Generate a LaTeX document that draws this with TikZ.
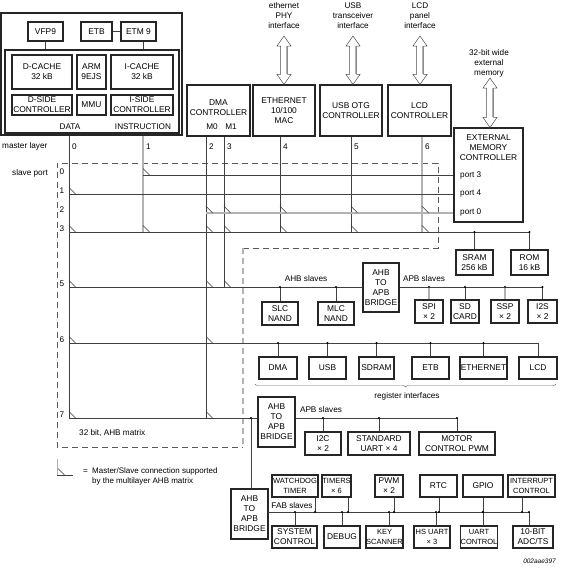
\documentclass[tikz,border=0pt]{standalone}
\usepackage{fontspec}
\setmainfont{Liberation Sans}
\usetikzlibrary{calc,decorations.pathreplacing}

\tikzset{
  blk/.style={draw=black!85, line width=1.1pt, align=center, inner sep=0pt,
    font=\fontsize{8.4}{10}\selectfont},
  sz/.style 2 args={minimum width=#1pt, minimum height=#2pt},
  tight/.style={font=\fontsize{7.5}{9.5}\selectfont},
  lbl/.style={inner sep=0pt, align=center, font=\fontsize{8.2}{10}\selectfont},
  bus/.style={draw=black!75, line width=0.6pt},
  gbus/.style={draw=black!30, line width=2.2pt},
  tick/.style={draw=black!80, line width=0.5pt},
  dashbox/.style={draw=black!65, line width=0.6pt, dash pattern=on 6pt off 4pt},
  gdash/.style={draw=black!30, line width=1.5pt, dash pattern=on 6pt off 4pt},
}

% wide hollow arrow, #1 = top end, #2 = bottom end
\newcommand\hollowarrow[2]{%
  \draw[black!70, line width=0.5pt] let \p1=(#1), \p2=(#2) in
    (\x1,\y1) -- (\x1+7pt,\y1-10pt) -- (\x1+3.5pt,\y1-10pt) -- (\x1+3.5pt,\y2+10pt)
    -- (\x1+7pt,\y2+10pt) -- (\x1,\y2) -- (\x1-7pt,\y2+10pt) -- (\x1-3.5pt,\y2+10pt)
    -- (\x1-3.5pt,\y1-10pt) -- (\x1-7pt,\y1-10pt) -- cycle;
  \draw[black!30, line width=1.6pt] let \p1=(#1), \p2=(#2) in
    (\x1+2.4pt,\y1-10pt) -- (\x1+2.4pt,\y2+10pt);}

\begin{document}
\begin{tikzpicture}[x=1pt, y=-1pt]
\useasboundingbox (0,0) rectangle (560,568);

% matrix outline
\draw[dashbox] (243,248) -- (438,248) -- (438,163) -- (57,163) -- (57,447) -- (243,447);
\draw[gdash] (243,248) -- (243,447);

% ARM926 block
\node[blk, sz={181}{122}, line width=1.4pt] (cpu) at (91.5,74) {};
\node[blk, sz={35}{19}] (vfp) at (45.5,31.5) {VFP9};
\node[blk, sz={31}{19}] (etb) at (96.5,31.5) {ETB};
\node[blk, sz={35}{19}] (etm) at (138.5,31.5) {ETM 9};
\node[blk, sz={174}{83}] (core) at (92,91.5) {};
\node[blk, sz={60}{34}] (dcache) at (42,72) {D-CACHE\\32 kB};
\node[blk, sz={29}{34}] (arm) at (91.5,72) {ARM\\9EJS};
\node[blk, sz={62}{34}] (icache) at (142,72) {I-CACHE\\32 kB};
\node[blk, sz={60}{20}] (dside) at (42,105) {D-SIDE\\CONTROLLER};
\node[blk, sz={29}{20}] (mmu) at (91.5,105) {MMU};
\node[blk, sz={62}{20}] (iside) at (142,105) {I-SIDE\\CONTROLLER};
\node[lbl] (data) at (70,127) {DATA};
\node[lbl] (instr) at (143,127) {INSTRUCTION};

% masters
\node[blk, sz={63}{51}] (dma) at (218.5,110.5) {};
\node[lbl, font=\fontsize{8.4}{10}\selectfont] (dmaT) at (218.5,107.5) {DMA\\CONTROLLER};
\node[lbl] (mz) at (212,127) {M0};
\node[lbl] (mo) at (231,127) {M1};
\node[blk, sz={62}{51}] (eth) at (284,110.5) {ETHERNET\\10/100\\MAC};
\node[blk, sz={62}{51}] (usb) at (351,110.5) {USB OTG\\CONTROLLER};
\node[blk, sz={63}{51}] (lcd) at (419.5,110.5) {LCD\\CONTROLLER};

\coordinate (ethA) at (284,36);
\coordinate (usbA) at (353,36);
\coordinate (lcdA) at (420,36);
\coordinate (emcA) at (490,78);
\node[lbl] (ethL) at (284,16) {ethernet\\PHY\\interface};
\node[lbl] (usbL) at (353,16) {USB\\transceiver\\interface};
\node[lbl] (lcdL) at (420,16) {LCD\\panel\\interface};
\node[lbl] (emcL) at (489,63) {32-bit wide\\external\\memory};

% external memory
\node[blk, sz={69}{94}] (emc) at (488.5,175) {};
\node[lbl, font=\fontsize{8.4}{10}\selectfont] (emcT) at (488.5,148) {EXTERNAL\\MEMORY\\CONTROLLER};
\node[lbl, anchor=west] (pt3) at (460,175) {port 3};
\node[lbl, anchor=west] (pt4) at (460,194) {port 4};
\node[lbl, anchor=west] (pt0) at (460,212.7) {port 0};
\node[blk, sz={37}{25}] (sram) at (474.5,262.5) {SRAM\\256 kB};
\node[blk, sz={37}{25}] (rom) at (529.5,262.5) {ROM\\16 kB};

\hollowarrow{ethA}{ethA |- eth.north}
\hollowarrow{usbA}{usbA |- usb.north}
\hollowarrow{lcdA}{lcdA |- lcd.north}
\hollowarrow{emcA}{emcA |- emc.north}

% labels of the matrix
\node[lbl, anchor=west] (mlayer) at (2,146) {master layer};
\node[lbl, anchor=east] (sport) at (48,173) {slave port};
\foreach \i/\mx in {0/69,1/143,2/206,3/224,4/280,5/351,6/422}
  \node[lbl, anchor=west] (ml\i) at (\mx+3,147) {\i};
\foreach \i/\py in {0/175,1/194,2/212.7,3/232,5/287,6/343,7/418}
  \node[lbl] (sl\i) at (62,\py-3.5) {\i};

% master layers
\coordinate (m0) at (69,418);
\coordinate (m1) at (143,232);
\coordinate (m2) at (206,418);
\coordinate (m3) at (224,287);
\coordinate (m4) at (280,232);
\coordinate (m5) at (351,232);
\coordinate (m6) at (422,232);
\draw[bus] (cpu.south -| m0) -- (m0);
\draw[gbus] (cpu.south -| m1) -- (m1);
\draw[bus] (etm.south -| m1) -- (core.north -| m1);
\draw[bus] (vfp) -- (vfp |- core.north);
\draw[bus] (etb) -- (etm);
\draw[bus] (dma.south -| m2) -- (m2);
\draw[bus] (dma.south -| m3) -- (m3);
\draw[bus] (eth.south -| m4) -- (m4);
\draw[bus] (usb.south -| m5) -- (m5);
\draw[gbus] (lcd.south -| m6) -- (m6);

% slave ports
\coordinate (s0) at (143,175);
\coordinate (s1) at (69,194);
\coordinate (s2) at (206,212.7);
\coordinate (s3) at (69,232);
\coordinate (s5) at (69,287);
\coordinate (s6) at (69,343);
\coordinate (s7) at (69,418);
\draw[bus] (s0) -- (s0 -| emc.west);
\draw[bus] (s1) -- (s1 -| emc.west);
\draw[gbus] (s2) -- (s2 -| emc.west);
\draw[bus] (s3) -- (s3 -| rom);
\draw[bus] (s3 -| sram) -- (sram);
\draw[bus] (s3 -| rom) -- (rom);
\fill (s3 -| sram) circle (1.2pt);
\fill (s3 -| rom) circle (1.2pt);

\foreach \mx/\py in {143/175, 69/194, 206/212.7, 224/212.7, 280/212.7, 351/212.7,
    422/212.7, 69/232, 143/232, 206/232, 224/232, 280/232, 351/232, 422/232,
    69/287, 206/287, 224/287, 69/343, 206/343, 69/418, 206/418}
  \draw[tick] (\mx,\py-6.5) -- (\mx+6.5,\py);

% AHB slaves on port 5
\node[blk, sz={36}{49}] (brA) at (381,287.5) {AHB\\TO\\APB\\BRIDGE};
\node[blk, sz={36}{23}] (slc) at (280,313.5) {SLC\\NAND};
\node[blk, sz={36}{23}] (mlc) at (336,313.5) {MLC\\NAND};
\node[lbl] (ahbS) at (306,279) {AHB slaves};
\node[lbl] (apbS) at (424,279) {APB slaves};
\node[blk, sz={28}{23}] (spi) at (429,311.5) {SPI\\× 2};
\node[blk, sz={28}{23}] (sd) at (465,311.5) {SD\\CARD};
\node[blk, sz={28}{23}] (ssp) at (505,311.5) {SSP\\× 2};
\node[blk, sz={29}{23}] (iis) at (542.5,311.5) {I2S\\× 2};
\draw[bus] (s5) -- (s5 -| brA.west);
\draw[bus] (brA.east |- s5) -- (s5 -| iis);
\foreach \n in {slc,mlc,sd,iis}
  \draw[bus] (s5 -| \n) -- (\n);
\foreach \n in {spi,ssp}
  \draw[gbus] (s5 -| \n) -- (\n);
\foreach \n in {slc,mlc,spi,sd,ssp,iis}
  \fill (s5 -| \n) circle (1.2pt);

% register interfaces on port 6
\node[blk, sz={38}{22}] (rdma) at (278,368) {DMA};
\node[blk, sz={37}{22}] (rusb) at (327.5,368) {USB};
\node[blk, sz={35}{22}] (rsdram) at (376.5,368) {SDRAM};
\node[blk, sz={37}{22}] (retb) at (430.5,368) {ETB};
\node[blk, sz={47}{22}] (reth) at (483.5,368) {ETHERNET};
\node[blk, sz={38}{22}] (rlcd) at (538,368) {LCD};
\draw[bus] (s6) -- (s6 -| rlcd) -- (rlcd);
\foreach \n in {rdma,rusb,rsdram,retb,reth}{
  \draw[bus] (s6 -| \n) -- (\n);
  \fill (s6 -| \n) circle (1.2pt);
}
\draw[decorate, decoration={brace, mirror, amplitude=3pt}, black!60, line width=0.4pt]
  (255,384) -- (556,384);
\node[lbl] (regL) at (407,396) {register interfaces};

% APB slaves on port 7
\node[blk, sz={37}{50}] (brB) at (276.5,422) {AHB\\TO\\APB\\BRIDGE};
\node[lbl] (apbS2) at (321,410) {APB slaves};
\node[blk, sz={36}{23}] (iic) at (323,443.5) {I2C\\× 2};
\node[blk, sz={62}{23}] (uart) at (379,443.5) {STANDARD\\UART × 4};
\node[blk, sz={76}{23}] (motor) at (457,443.5) {MOTOR\\CONTROL PWM};
\draw[bus] (s7) -- (s7 -| brB.west);
\draw[bus] (brB.east |- s7) -- (s7 -| motor);
\foreach \n in {iic,uart,motor}{
  \draw[bus] (s7 -| \n) -- (\n);
  \fill (s7 -| \n) circle (1.2pt);
}
\node[lbl, anchor=west] (matL) at (79,433) {32 bit, AHB matrix};

% FAB slaves
\node[blk, sz={37}{50}] (brC) at (249.5,514) {AHB\\TO\\APB\\BRIDGE};
\coordinate (j7) at (251,418);
\draw[bus] (j7) -- (j7 |- brC.north);
\fill (j7) circle (1.2pt);
\coordinate (fab) at (268,512);
\coordinate (fabE) at (529,512);
\draw[bus] (fab) -- (fabE);
\node[lbl] (fabS) at (292,506) {FAB slaves};
\node[blk, tight, sz={46}{22}] (wdt) at (295,486) {WATCHDOG\\TIMER};
\node[blk, tight, sz={29}{22}] (tmr) at (336.5,486) {TIMERS\\× 6};
\node[blk, sz={28}{22}] (pwm) at (389,486) {PWM\\× 2};
\node[blk, sz={37}{22}] (rtc) at (438.5,486) {RTC};
\node[blk, sz={40}{22}] (gpio) at (483,486) {GPIO};
\node[blk, tight, sz={47}{22}] (intc) at (531.5,486) {INTERRUPT\\CONTROL};
\node[blk, sz={45}{22}] (sysc) at (294.5,537) {SYSTEM\\CONTROL};
\node[blk, sz={36}{22}] (dbg) at (342,537) {DEBUG};
\node[blk, tight, sz={37}{22}] (key) at (384.5,537) {KEY\\SCANNER};
\node[blk, tight, sz={36}{22}] (hsu) at (432,537) {HS UART\\× 3};
\node[blk, tight, sz={36}{22}] (uctl) at (479,537) {UART\\CONTROL};
\node[blk, sz={40}{22}] (adc) at (533,537) {10-BIT\\ADC/TS};
\foreach \n/\d in {wdt/20,tmr/11.5,pwm/5,rtc/0.5,gpio/0,intc/-9.5}{
  \draw[bus] ([xshift=\d pt]\n.south) -- ([xshift=\d pt]\n.south |- fab);
  \fill ([xshift=\d pt]\n.south |- fab) circle (1.2pt);
}
\foreach \n/\d in {sysc/0.5,dbg/0,key/4.5,hsu/4,uctl/4,adc/-4}{
  \draw[bus] ([xshift=\d pt]\n.north) -- ([xshift=\d pt]\n.north |- fab);
  \fill ([xshift=\d pt]\n.north |- fab) circle (1.2pt);
}

% legend
\coordinate (lg) at (57,475);
\draw[black!30, line width=0.5pt] (lg) -- ++(0,-16);
\draw[bus] (lg) -- ++(16,0);
\draw[tick] (58,468.5) -- (64.5,475);
\node[lbl, anchor=west] (lgEq) at (83,471) {=};
\node[lbl, anchor=west, align=left, font=\fontsize{8}{10}\selectfont] (lgT) at (92,476) {Master/Slave connection supported\\by the multilayer AHB matrix};

\node[anchor=east, inner sep=0pt, font=\fontsize{6.5}{8}\selectfont\itshape] (code) at (556,561) {002aae397};
\end{tikzpicture}
\end{document}
